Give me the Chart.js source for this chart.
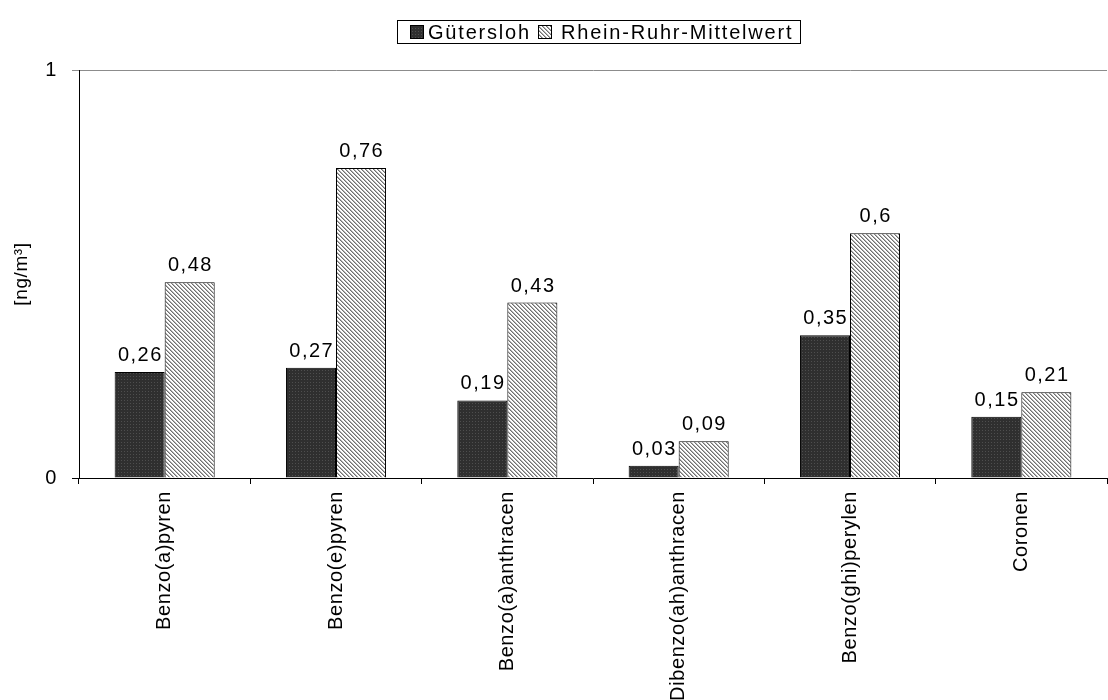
<!DOCTYPE html>
<html>
<head>
<meta charset="utf-8">
<script src="https://cdn.jsdelivr.net/npm/chart.js@4/dist/chart.umd.min.js"></script>
<style>
  html, body { margin: 0; padding: 0; background: #fff; }
  #wrap { width: 1108px; height: 700px; }
</style>
</head>
<body>
<div id="wrap"><canvas id="c" width="1108" height="700"></canvas></div>
<script>
// PAH concentrations, Gütersloh vs. Rhein-Ruhr mean
const categories = ['Benzo(a)pyren', 'Benzo(e)pyren', 'Benzo(a)anthracen', 'Dibenzo(ah)anthracen', 'Benzo(ghi)perylen', 'Coronen'];
const guetersloh = [0.26, 0.27, 0.19, 0.03, 0.35, 0.15];
const rheinRuhr = [0.48, 0.76, 0.43, 0.09, 0.6, 0.21];
const seriesNames = ['Gütersloh', 'Rhein-Ruhr-Mittelwert'];
const yTicks = [0, 1];
const yTitle = '[ng/m³]';

const FONT = '"Liberation Sans", Arial, sans-serif';

// Fill patterns for the two series
function makePattern(size, draw) {
  const c = document.createElement('canvas');
  c.width = size; c.height = size;
  const g = c.getContext('2d');
  draw(g);
  return document.getElementById('c').getContext('2d').createPattern(c, 'repeat');
}
const darkFill = makePattern(3, g => {
  g.fillStyle = '#2f2f2f'; g.fillRect(0, 0, 3, 3);
  g.fillStyle = '#4e4e4e'; g.fillRect(1, 1, 1, 1);
});
const hatchFill = makePattern(4, g => {
  g.fillStyle = '#ffffff'; g.fillRect(0, 0, 4, 4);
  for (let i = 0; i < 4; i++) {
    g.fillStyle = '#707070'; g.fillRect(i, i, 1, 1);
    g.fillStyle = '#b4b4b4'; g.fillRect((i + 1) % 4, i, 1, 1);
  }
});
const fills = [darkFill, hatchFill];

const fmt = v => String(v).replace('.', ',');

// Text spacing for the axis texts drawn by the library
const spacingPlugin = {
  id: 'spacing',
  beforeDraw(chart) { chart.ctx.letterSpacing = '0.6px'; }
};

// Value labels above each bar
const valueLabels = {
  id: 'valueLabels',
  afterDatasetsDraw(chart) {
    const ctx = chart.ctx;
    ctx.save();
    const ls = 1.5;
    ctx.font = '20px ' + FONT;
    ctx.letterSpacing = ls + 'px';
    ctx.fillStyle = '#000';
    ctx.textAlign = 'center';
    ctx.textBaseline = 'alphabetic';
    chart.data.datasets.forEach((ds, i) => {
      chart.getDatasetMeta(i).data.forEach((bar, j) => {
        ctx.fillText(fmt(ds.data[j]), bar.x + ls / 2, bar.y - 11);
      });
    });
    ctx.restore();
  }
};

// Boxed legend at the top
const boxedLegend = {
  id: 'boxedLegend',
  afterDraw(chart) {
    const ctx = chart.ctx;
    ctx.save();
    ctx.letterSpacing = '1.8px';
    ctx.font = '20px ' + FONT;
    ctx.textBaseline = 'middle';
    ctx.textAlign = 'left';
    ctx.strokeStyle = '#000';
    ctx.lineWidth = 1;
    ctx.strokeRect(397.5, 20.5, 403, 23);
    const squares = [410, 538];
    const texts = [428, 561];
    chart.data.datasets.forEach((ds, i) => {
      ctx.fillStyle = fills[i];
      ctx.fillRect(squares[i], 25, 14, 14);
      ctx.strokeRect(squares[i] + 0.5, 25.5, 13, 13);
      ctx.fillStyle = '#000';
      ctx.fillText(ds.label, texts[i], 33);
    });
    ctx.restore();
  }
};

new Chart(document.getElementById('c'), {
  type: 'bar',
  data: {
    labels: categories,
    datasets: [
      { label: seriesNames[0], data: guetersloh, backgroundColor: darkFill, borderColor: '#000', borderWidth: 1 },
      { label: seriesNames[1], data: rheinRuhr, backgroundColor: hatchFill, borderColor: '#000', borderWidth: 1 }
    ]
  },
  options: {
    responsive: false,
    devicePixelRatio: 1,
    animation: false,
    layout: { padding: { top: 70, right: 1, left: 0, bottom: 0 } },
    datasets: { bar: { categoryPercentage: 0.584, barPercentage: 1 } },
    plugins: { legend: { display: false }, tooltip: { enabled: false } },
    scales: {
      x: {
        grid: { offset: true, drawOnChartArea: false, tickLength: 6, tickColor: '#000', color: '#000' },
        border: { color: '#000', width: 1 },
        ticks: { minRotation: 90, maxRotation: 90, autoSkip: false, padding: 7, color: '#000', font: { family: FONT, size: 20 } },
        afterFit(s) { s.height = 222; }
      },
      y: {
        min: 0, max: 1,
        afterBuildTicks(s) { s.ticks = yTicks.map(v => ({ value: v })); },
        grid: {
          color: c => (c.tick && c.tick.value === 1) ? '#8c8c8c' : 'rgba(0,0,0,0)',
          tickColor: c => (c.tick && c.tick.value === 1) ? '#8c8c8c' : '#000',
          tickLength: 7
        },
        border: { color: '#000', width: 1 },
        ticks: { padding: 15, color: '#000', font: { family: FONT, size: 20 } },
        title: { display: true, text: yTitle, color: '#000', font: { family: FONT, size: 19 }, padding: { top: 10, bottom: 0 } },
        afterFit(s) { s.width = 79; }
      }
    }
  },
  plugins: [spacingPlugin, valueLabels, boxedLegend]
});
</script>
</body>
</html>
